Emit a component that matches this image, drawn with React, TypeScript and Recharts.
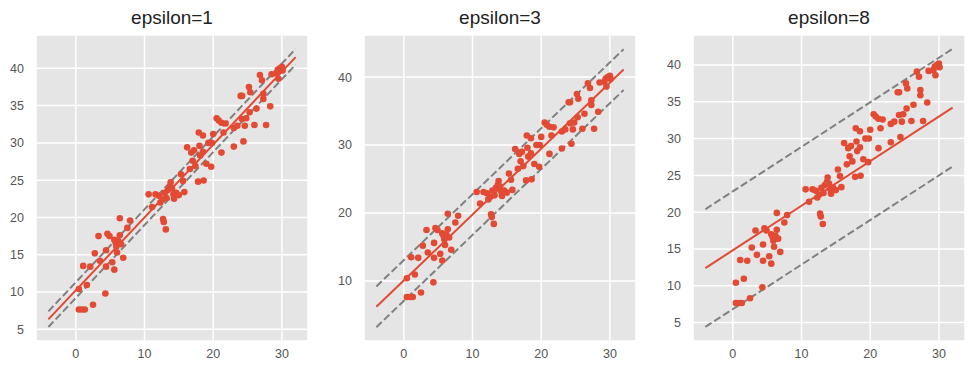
import React from "react"
import { ScatterChart, Scatter, XAxis, YAxis, CartesianGrid, ReferenceLine } from "recharts"

// observations (same in all three panels)
const xs = [
  0.44, 0.44, 0.9, 1.3, 1.07, 1.6, 2.1, 2.5, 2.76, 3.3, 3.5, 4.4, 4.3, 4.4, 4.6, 4.9, 5.3, 5.6, 5.6, 5.8,
  5.9, 6.0, 6.2, 6.4, 6.6, 6.4, 6.9, 7.5, 7.9,
  10.6, 11.1, 11.6, 12.1, 12.3, 12.6, 12.7, 12.8, 13.1, 12.9, 13.2, 13.4, 13.7, 13.8, 14.0, 14.2, 14.3, 14.6,
  15.0, 15.3, 15.6, 15.8,
  16.2, 16.6, 16.8, 17.0, 17.2, 17.4, 17.9, 18.0, 18.1, 17.8, 18.5, 18.5, 18.6, 19.0, 19.3, 19.7, 19.8, 20.0,
  20.5, 20.8, 21.2, 21.2, 21.5, 21.8, 23.0, 23.0, 23.5, 24.0, 24.2, 24.2, 24.4, 24.6, 24.8, 25.2, 25.4, 25.3,
  26.0, 26.3, 26.8, 27.1, 27.3, 27.3, 27.7, 28.3, 28.5, 29.2, 29.5, 29.7, 30.0, 30.1, 29.4,
]
const ys = [
  10.4, 7.65, 7.65, 7.65, 13.5, 10.95, 13.4, 8.3, 15.2, 17.5, 14.2, 13.4, 9.8, 15.6, 17.8, 17.5, 14.0, 13.0, 17.0, 16.6,
  16.1, 15.3, 16.8, 17.6, 16.4, 19.9, 14.6, 18.6, 19.6,
  23.1, 21.4, 23.1, 22.9, 22.0, 22.4, 19.8, 19.4, 18.4, 23.3, 22.6, 23.7, 24.1, 24.7, 23.9, 23.1, 22.5, 23.3,
  23.0, 25.8, 24.9, 23.4,
  29.4, 26.5, 28.7, 27.6, 29.0, 26.9, 31.4, 29.6, 28.3, 24.8, 31.0, 28.8, 24.95, 27.2, 30.0, 26.8, 30.0, 31.2,
  33.3, 33.0, 28.7, 32.7, 31.4, 32.6, 29.5, 32.0, 32.3, 36.3, 36.3, 33.2, 30.2, 32.3, 33.3, 37.5, 36.8, 34.1,
  32.4, 34.6, 39.1, 38.4, 36.6, 35.9, 32.4, 34.9, 39.2, 39.3, 38.6, 40.0, 40.2, 39.7, 39.8,
]

const titles = ["epsilon=1", "epsilon=3", "epsilon=8"]
const lineX = [-4, 32]
const fitY = [[6.33, 41.5], [6.2, 41.1], [12.4, 34.2]]
const upperY = [[7.4, 42.6], [9.2, 44.1], [20.4, 42.2]]
const lowerY = [[5.3, 40.5], [3.2, 38.1], [4.4, 26.2]]
const xTicks = [0, 10, 20, 30]
const yTicks = [
  [5, 10, 15, 20, 25, 30, 35, 40],
  [10, 20, 30, 40],
  [5, 10, 15, 20, 25, 30, 35, 40],
]
const yDomains = [[3.43, 44.47], [1.17, 46.19], [2.49, 44.08]]
const xDomain = [-5.8, 33.8]

const points = xs.map((x, i) => ({ x, y: ys[i] }))

const RED = "#E24A33"
const FONT = "'Liberation Sans', Arial, sans-serif"
const plotLefts = [36, 364, 693]

const dot = (p: any) => <circle cx={p.cx} cy={p.cy} r={3.3} fill={RED} />

function Panel({ i }: { i: number }) {
  const seg = (ys2: number[]) => [
    { x: lineX[0], y: ys2[0] },
    { x: lineX[1], y: ys2[1] },
  ]
  return (
    <div style={{ position: "absolute", left: plotLefts[i] - 36, top: 0, width: 320, height: 373 }}>
      <div
        style={{
          position: "absolute", left: 36, top: 6, width: 272, textAlign: "center",
          fontFamily: FONT, fontSize: 19, lineHeight: "24px", color: "#222",
        }}
      >
        {titles[i]}
      </div>
      <ScatterChart width={320} height={373} margin={{ top: 35, right: 12, left: 0, bottom: 0 }}>
        <CartesianGrid fill="#E5E5E5" stroke="#fff" strokeWidth={1.5} />
        <XAxis
          type="number" dataKey="x" domain={xDomain} ticks={xTicks} height={32}
          axisLine={false} tickLine={false} tickSize={4} tickMargin={4}
          tick={{ fill: "#555", fontSize: 12.5, fontFamily: FONT }}
          allowDataOverflow
        />
        <YAxis
          type="number" dataKey="y" domain={yDomains[i]} ticks={yTicks[i]} width={36}
          axisLine={false} tickLine={false} tickSize={4} tickMargin={8}
          tick={{ fill: "#555", fontSize: 12.5, fontFamily: FONT }}
          allowDataOverflow
        />
        <Scatter data={points} shape={dot} isAnimationActive={false} />
        <ReferenceLine segment={seg(upperY[i])} stroke="#808080" strokeWidth={2} strokeDasharray="7.4 3.2" ifOverflow="visible" />
        <ReferenceLine segment={seg(lowerY[i])} stroke="#808080" strokeWidth={2} strokeDasharray="7.4 3.2" ifOverflow="visible" />
        <ReferenceLine segment={seg(fitY[i])} stroke={RED} strokeWidth={2} ifOverflow="visible" />
      </ScatterChart>
    </div>
  )
}

export default function App() {
  return (
    <div style={{ position: "absolute", left: 0, top: 0, width: 975, height: 373, background: "#fff" }}>
      {[0, 1, 2].map((i) => (
        <Panel key={i} i={i} />
      ))}
    </div>
  )
}
